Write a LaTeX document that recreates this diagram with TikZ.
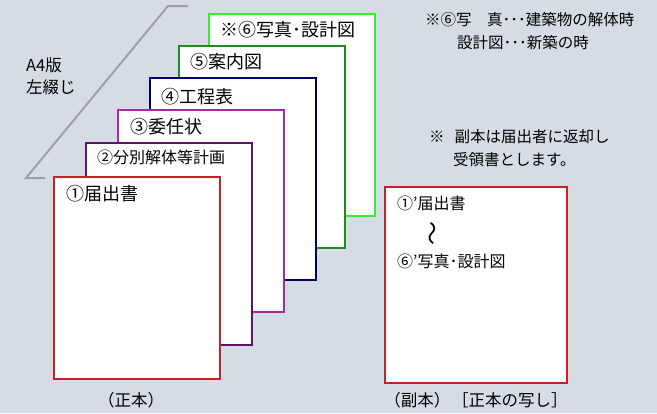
\documentclass[tikz,border=0pt]{standalone}
\usepackage{fontspec}
\setmainfont{Noto Sans CJK JP}
\usetikzlibrary{positioning}
\definecolor{bg}{HTML}{D6DCE4}
\definecolor{rd}{HTML}{C8202A}
\definecolor{pu}{HTML}{5A1468}
\definecolor{mg}{HTML}{A62AA0}
\definecolor{nv}{HTML}{000066}
\definecolor{gr}{HTML}{1E8C1E}
\definecolor{li}{HTML}{33EE33}
\definecolor{edge}{HTML}{A0A0A0}
\newcommand\fsz[1]{\fontsize{#1pt}{#1pt}\selectfont}

\begin{document}
\begin{tikzpicture}[x=1pt,y=-1pt,
  sheet/.style={draw,fill=white,line width=2pt,minimum width=166pt,
    minimum height=202pt,anchor=north west,inner sep=0pt},
  lbl/.style={anchor=west,inner sep=0pt,font=\fsz{18}},
  note/.style={anchor=west,inner sep=0pt,font=\fsz{15.5}}]
  \fill[bg] (0,0) rectangle (657,413);
  \useasboundingbox (0,0) rectangle (657,413);
  % binding edge
  \draw[edge,line width=2pt] (45,178) -- (26,178) -- (168,6) -- (188,6);
  \node[note,font=\fsz{16.5}] (a4) at (26,65) {A4版};
  \node[note,font=\fsz{16.5}] (bind) at (26,87) {左綴じ};
  % stack, back to front
  \node[sheet,draw=li] (s6) at (208,13) {};
  \node[lbl] (t6) at ([shift={(12,17)}]s6.north west) {※⑥写真･設計図};
  \node[sheet,draw=gr] (s5) at (178,45) {};
  \node[lbl] (t5) at ([shift={(12,17)}]s5.north west) {⑤案内図};
  \node[sheet,draw=nv] (s4) at (149,77) {};
  \node[lbl] (t4) at ([shift={(12,20)}]s4.north west) {④工程表};
  \node[sheet,draw=mg] (s3) at (117,109) {};
  \node[lbl] (t3) at ([shift={(13,18)}]s3.north west) {③委任状};
  \node[sheet,draw=pu] (s2) at (85,142) {};
  \node[lbl,font=\fsz{16}] (t2) at ([shift={(12,15)}]s2.north west) {②分別解体等計画};
  \node[sheet,draw=rd] (s1) at (53,176) {};
  \node[lbl] (t1) at ([shift={(13,18)}]s1.north west) {①届出書};
  \node[font=\fsz{16.5}] (cap1) at ([shift={(-6,20)}]s1.south) {（正本）};
  % notes
  \node[note] (n1) at (425,20) {※⑥写　真･･･建築物の解体時};
  \node[note] (n2) at (457,43) {設計図･･･新築の時};
  \node[note] (n3) at (429,137) {※\hspace{10pt}副本は届出者に返却し};
  \node[note] (n4) at (453,160) {受領書とします。};
  % copy
  \node[sheet,draw=rd,minimum width=182pt,minimum height=196pt] (c1) at (384,186) {};
  \node[note,font=\fsz{16}] (ct1) at ([shift={(13,17)}]c1.north west) {①’届出書};
  \node[rotate=90,font=\fsz{24}] (wave) at (435,233) {〜};
  \node[note,font=\fsz{16}] (ct2) at ([shift={(13,75)}]c1.north west) {⑥’写真･設計図};
  \node[font=\fsz{16.5}] (cap2) at ([shift={(0,16)}]c1.south) {（副本）\hspace{2pt}［正本の写し］};
\end{tikzpicture}
\end{document}
